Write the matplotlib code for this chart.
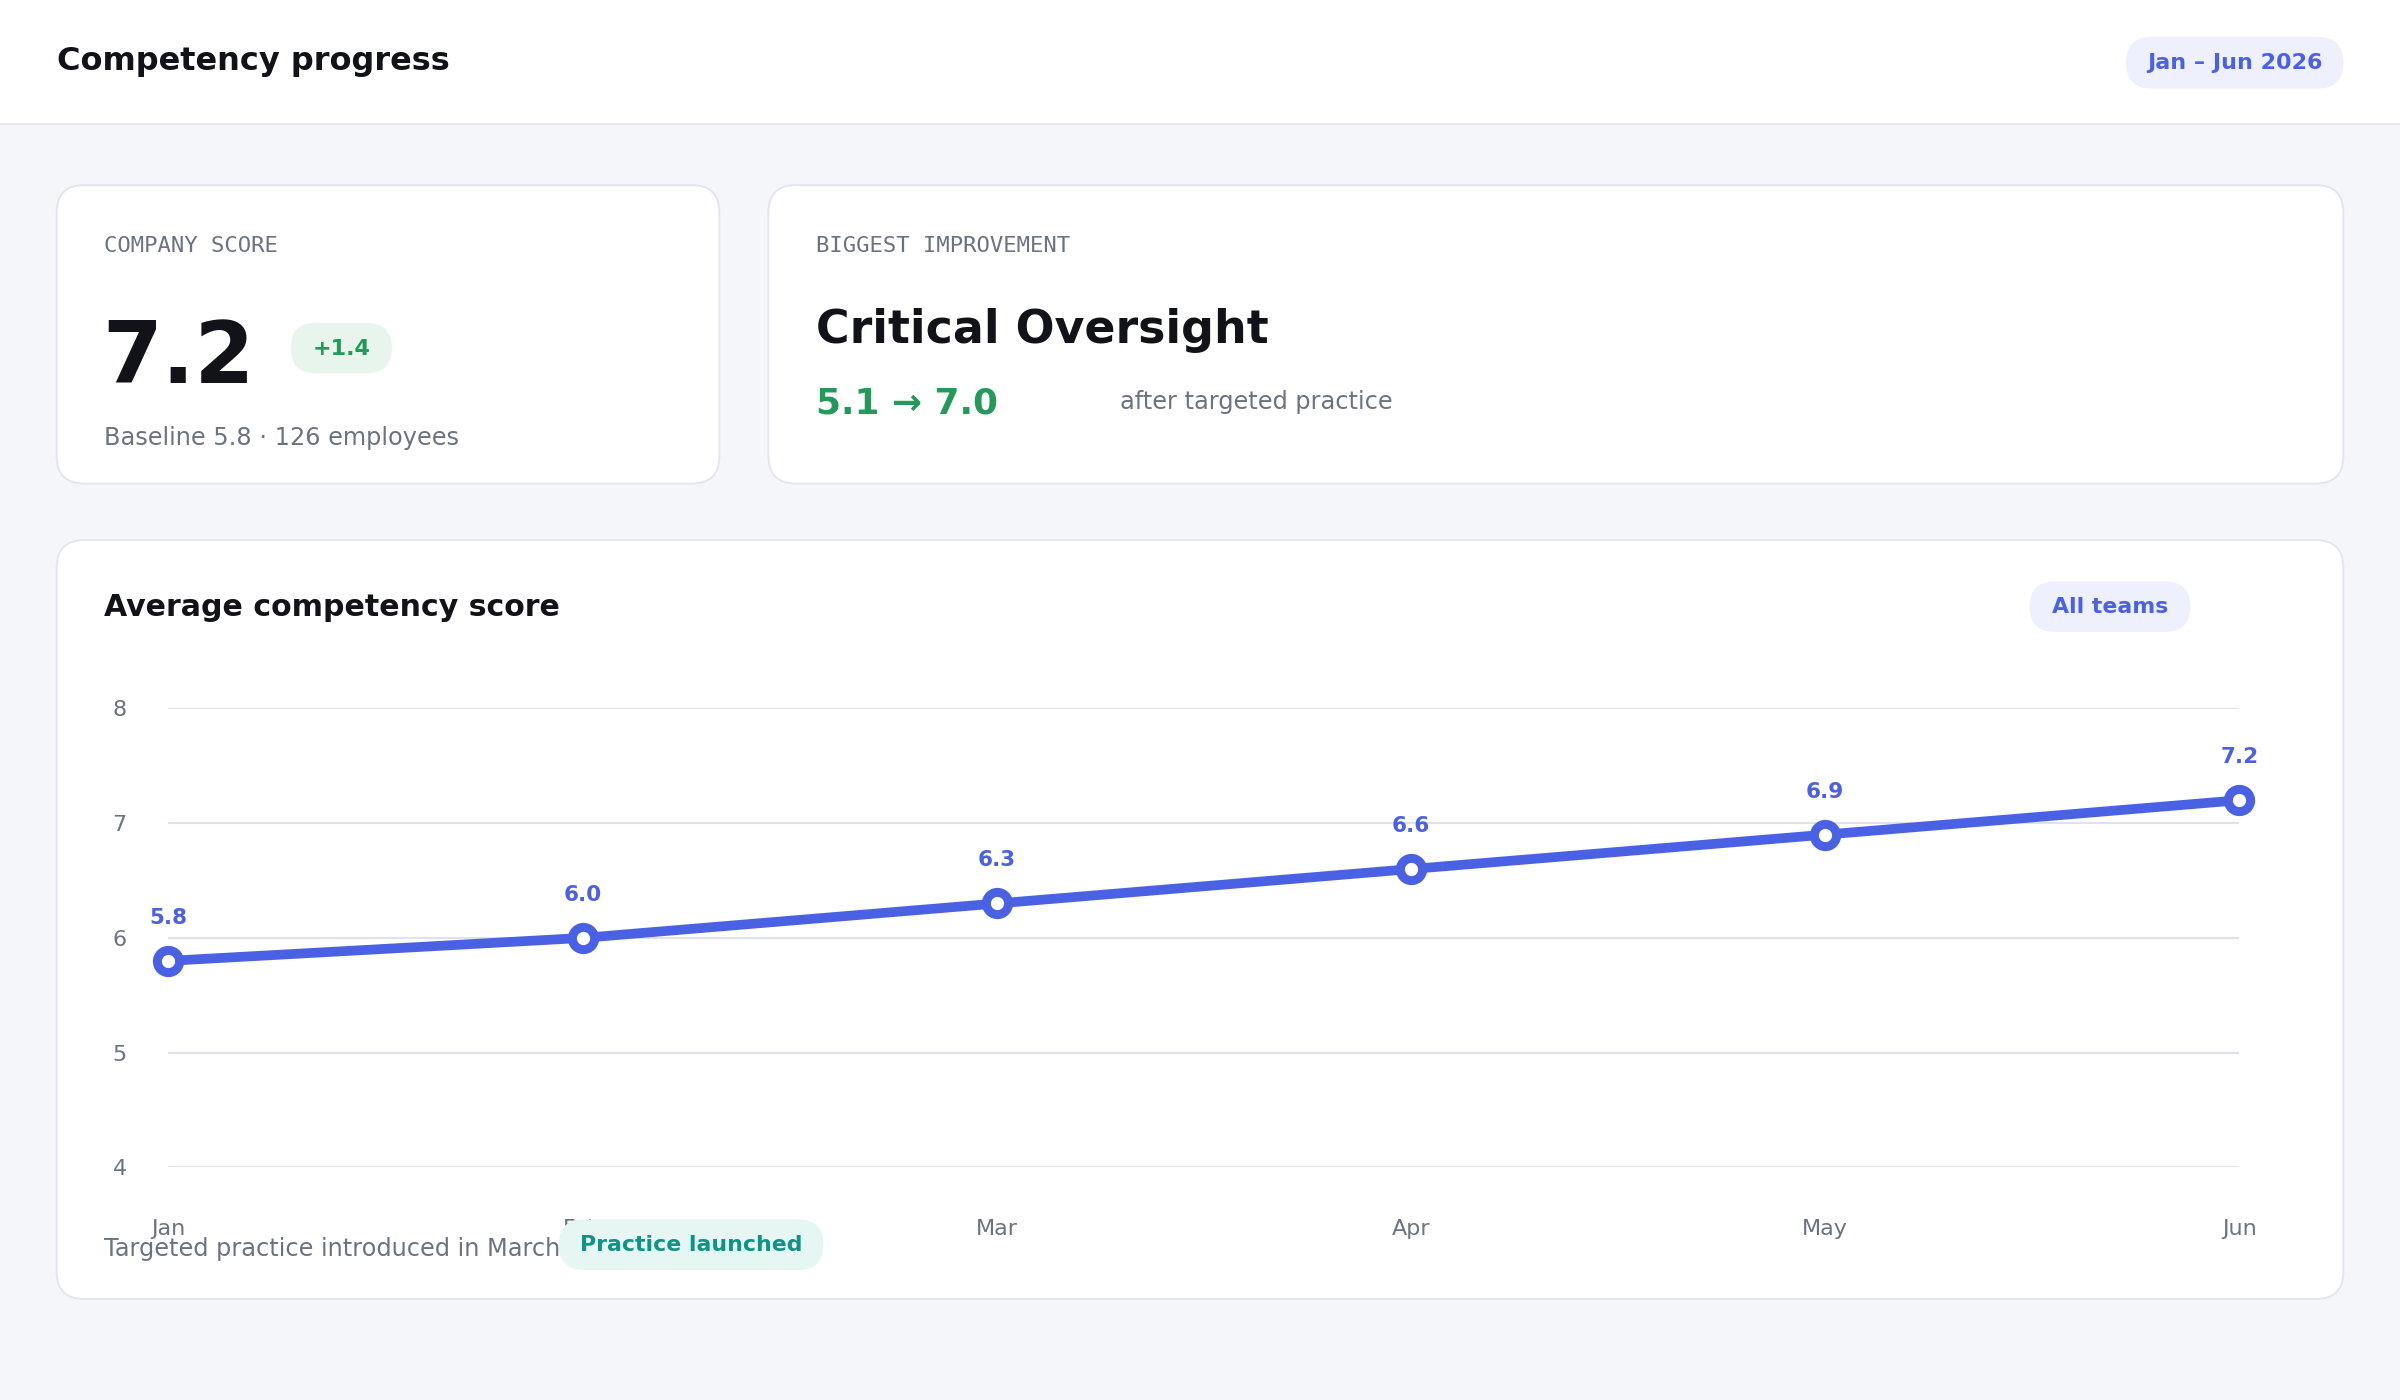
import matplotlib
matplotlib.use("Agg")
import matplotlib.pyplot as plt
from matplotlib.patches import FancyBboxPatch, Rectangle

months = ["Jan", "Feb", "Mar", "Apr", "May", "Jun"]
scores = [5.8, 6.0, 6.3, 6.6, 6.9, 7.2]
y_ticks = [4, 5, 6, 7, 8]

title = "Competency progress"
period = "Jan \u2013 Jun 2026"
company_score = "7.2"
score_delta = "+1.4"
baseline_note = "Baseline 5.8 \u00b7 126 employees"
top_skill = "Critical Oversight"
top_skill_change = "5.1 \u2192 7.0"
top_skill_note = "after targeted practice"
chart_title = "Average competency score"
chart_filter = "All teams"
footnote = "Targeted practice introduced in March"
footnote_tag = "Practice launched"

BG = "#f5f6fa"
BORDER = "#e3e6ec"
DARK = "#111318"
GRAY = "#6b7280"
INDIGO = "#4b61e4"
INDIGO_BG = "#eef1fd"
GREEN = "#23995a"
GREEN_BG = "#e7f5ec"
TEAL = "#0e9384"
TEAL_BG = "#e5f6f3"

W, H = 1568, 915  # layout units (scaled to 2400x1400 on save)

fig = plt.figure(figsize=(24, 14), dpi=100, facecolor=BG)

base = fig.add_axes([0, 0, 1, 1], zorder=0)
base.set_xlim(0, W)
base.set_ylim(H, 0)
base.axis("off")


def card(ax, x0, y0, x1, y1, r=18):
    ax.add_patch(FancyBboxPatch((x0, y0), x1 - x0, y1 - y0,
                                boxstyle=f"round,pad=0,rounding_size={r}",
                                fc="white", ec=BORDER, lw=1.4))


def pill(ax, x0, y0, x1, y1, fc, text, color, size):
    h = y1 - y0
    ax.add_patch(FancyBboxPatch((x0, y0), x1 - x0, h,
                                boxstyle=f"round,pad=0,rounding_size={h / 2}",
                                fc=fc, ec="none"))
    ax.text((x0 + x1) / 2, (y0 + y1) / 2 + 0.5, text, ha="center",
            va="center", color=color, fontsize=size, fontweight="bold")


# header band
base.add_patch(Rectangle((0, 0), W, 81, fc="white", ec="none"))
base.plot([0, W], [81, 81], color="#e5e7eb", lw=1.5)
base.text(37, 40, title, ha="left", va="center", fontsize=23,
          fontweight="bold", color=DARK)
pill(base, 1389, 24, 1531, 58, INDIGO_BG, period, INDIGO, 16)

# KPI cards
card(base, 37, 121, 470, 316)
base.text(68, 161, "COMPANY SCORE", family="DejaVu Sans Mono", fontsize=16,
          color=GRAY, ha="left", va="center")
base.text(67, 250, company_score, fontsize=62, fontweight="bold", color=DARK,
          ha="left", va="baseline")
pill(base, 190, 211, 256, 244, GREEN_BG, score_delta, GREEN, 16)
base.text(68, 286.5, baseline_note, fontsize=17.3, color=GRAY,
          ha="left", va="center")

card(base, 502, 121, 1531, 316)
base.text(533, 161, "BIGGEST IMPROVEMENT", family="DejaVu Sans Mono",
          fontsize=16, color=GRAY, ha="left", va="center")
base.text(533, 216, top_skill, fontsize=33, fontweight="bold", color=DARK,
          ha="left", va="center")
base.text(533, 264, top_skill_change, fontsize=25.8, fontweight="bold",
          color=GREEN, ha="left", va="center")
base.text(732, 263, top_skill_note, fontsize=17.3, color=GRAY,
          ha="left", va="center")

# chart card
card(base, 37, 353, 1531, 849)
base.text(68, 397, chart_title, fontsize=21.6, fontweight="bold", color=DARK,
          ha="left", va="center")
pill(base, 1326, 380, 1431, 413, INDIGO_BG, chart_filter, INDIGO, 15.8)
base.text(68, 816, footnote, fontsize=17.3, color=GRAY, ha="left",
          va="center")

# line chart
ax = fig.add_axes([110 / W, 1 - 763 / H, (1463 - 110) / W, (763 - 463) / H],
                  zorder=2)
ax.patch.set_alpha(0)
x = list(range(len(months)))
ax.plot(x, scores, color=INDIGO, lw=7, marker="o", ms=16, mew=6.5,
        mfc="white", mec=INDIGO, clip_on=False, zorder=3,
        solid_capstyle="round")
for xi, v in zip(x, scores):
    ax.annotate(f"{v:.1f}", (xi, v), xytext=(0, 31), textcoords="offset points",
                ha="center", va="center", fontsize=15.5, fontweight="bold",
                color=INDIGO, annotation_clip=False)
ax.set_xlim(0, len(months) - 1)
ax.set_ylim(4, 8)
ax.set_yticks(y_ticks)
ax.set_xticks(x)
ax.set_xticklabels(months)
ax.grid(axis="y", color="#dfe2e8", lw=1.5)
ax.set_axisbelow(True)
for s in ax.spines.values():
    s.set_visible(False)
ax.tick_params(axis="both", length=0, colors=GRAY, labelsize=16)
ax.tick_params(axis="y", pad=30)
ax.tick_params(axis="x", pad=37)

# tag drawn on top of the axis labels
top = fig.add_axes([0, 0, 1, 1], zorder=5)
top.set_xlim(0, W)
top.set_ylim(H, 0)
top.axis("off")
pill(top, 365, 797, 538, 830, TEAL_BG, footnote_tag, TEAL, 15.8)

fig.savefig("out.png", dpi=100, facecolor=BG)
